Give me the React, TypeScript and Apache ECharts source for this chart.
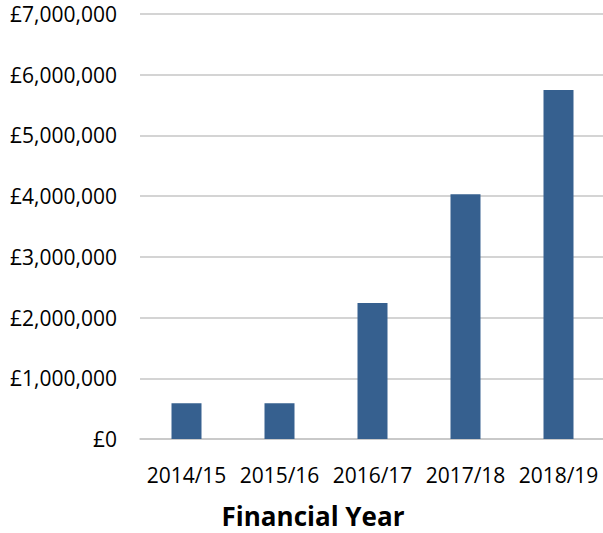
import React, { useEffect, useRef } from "react";
import * as echarts from "echarts";

const categories = ["2014/15", "2015/16", "2016/17", "2017/18", "2018/19"];
const values = [590000, 590000, 2240000, 4030000, 5750000];
const yTicks = { min: 0, max: 7000000, interval: 1000000 };
const xTitle = "Financial Year";

function fmt(v: number): string {
  return "£" + v.toLocaleString("en-GB");
}

export default function App() {
  const ref = useRef<HTMLDivElement>(null);
  useEffect(() => {
    if (!ref.current) return;
    const chart = echarts.init(ref.current, null, { renderer: "svg" });
    chart.setOption({
      animation: false,
      backgroundColor: "#ffffff",
      grid: { left: 140, right: -2, top: 14, bottom: 94, outerBoundsMode: "none", containLabel: false },
      xAxis: {
        type: "category",
        data: categories,
        axisTick: { show: false },
        axisLine: { show: true, lineStyle: { color: "#c6c6c6", width: 1.5 } },
        axisLabel: {
          color: "#000",
          fontFamily: "Open Sans",
          fontSize: 21,
          margin: 25,
          interval: 0,
          hideOverlap: false,
        },
      },
      yAxis: {
        type: "value",
        min: yTicks.min,
        max: yTicks.max,
        interval: yTicks.interval,
        axisLine: { show: false },
        axisTick: { show: false },
        splitLine: { lineStyle: { color: "#c6c6c6", width: 1.5 } },
        axisLabel: {
          color: "#000",
          fontFamily: "Open Sans",
          fontSize: 21,
          margin: 23,
          formatter: (v: number) => fmt(v),
        },
      },
      graphic: [
        {
          type: "text",
          x: 313,
          y: 516,
          style: {
            text: xTitle,
            fill: "#000",
            font: "bold 26px 'Open Sans'",
            textAlign: "center",
            textVerticalAlign: "middle",
          },
        },
      ],
      series: [
        {
          type: "bar",
          data: values,
          barWidth: 30,
          itemStyle: { color: "#36608F" },
        },
      ],
    });
    return () => chart.dispose();
  }, []);
  return (
    <div
      ref={ref}
      style={{ position: "fixed", left: 0, top: 0, width: 603, height: 533 }}
    />
  );
}
